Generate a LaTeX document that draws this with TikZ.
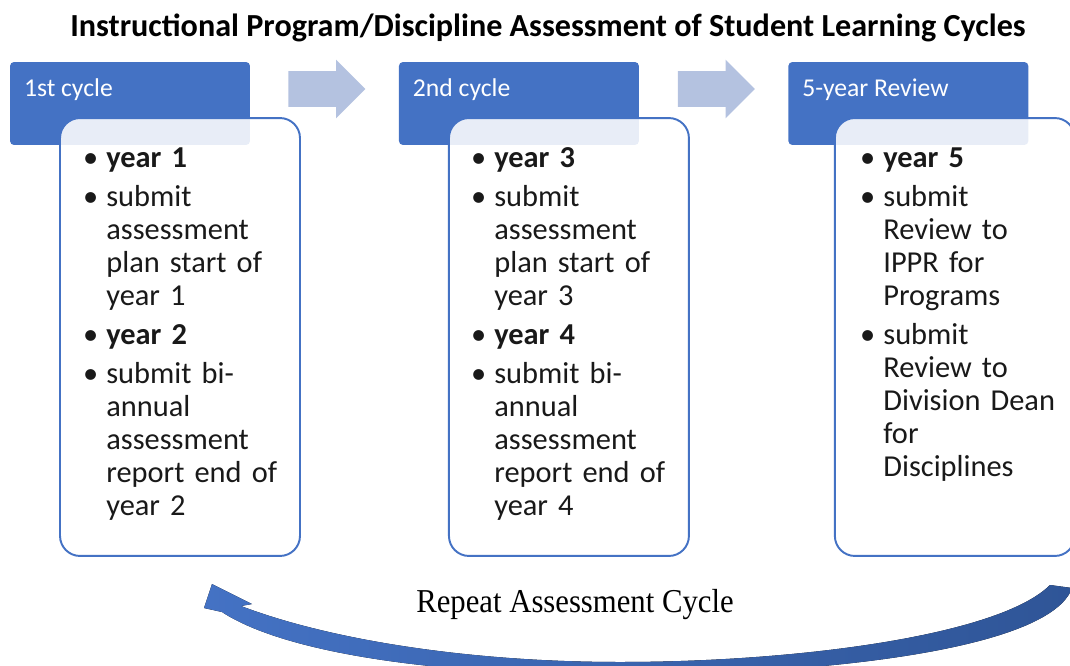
\documentclass[tikz,border=0pt]{standalone}
\usepackage{fontspec}
\setmainfont{Carlito}
\newfontfamily\loopfont[FakeStretch=0.92]{Liberation Serif}
\usepackage{enumitem}
\usetikzlibrary{positioning, shapes, arrows}
\definecolor{hdrblue}{RGB}{68,114,196}
\definecolor{stepgrey}{RGB}{180,194,224}
\definecolor{loopdark}{RGB}{47,85,151}
\tikzstyle{title}    = [font=\fontsize{18.3}{21}\selectfont\bfseries, inner sep=0pt]
\tikzstyle{header}   = [rectangle, fill=hdrblue, rounded corners=0.08cm, minimum width=4.8cm, minimum height=1.66cm]
\tikzstyle{headtext} = [anchor=west, text=white, inner sep=0pt, font=\fontsize{14.6}{17}\selectfont]
\tikzstyle{body}     = [rectangle, draw=hdrblue, line width=1.1pt, fill=white, fill opacity=0.88, rounded corners=0.4cm, minimum width=4.8cm, minimum height=8.76cm]
\tikzstyle{steparrow}= [single arrow, fill=stepgrey, inner xsep=0pt, inner ysep=0.35cm, minimum height=1.54cm, single arrow head extend=0.23cm]
\tikzstyle{list}     = [anchor=north west, inner sep=0pt, text width=4.2cm, align=left, font=\fontsize{17.3}{18.8}\selectfont, text=black!90]
\setlist[itemize]{leftmargin=0.36cm, labelsep=0.16cm, itemsep=0.12cm, topsep=0pt, parsep=0pt, partopsep=0pt}

\begin{document}
\begin{tikzpicture}[x=0.02cm, y=-0.02cm]
    \useasboundingbox (0,0) rectangle (1070,665);

    % title
    \node [title] (title) at (548,28) {Instructional Program/Discipline Assessment of Student Learning Cycles};

    % header boxes
    \node [header] (h1) at (130,103.5) {};
    \node [header, right of=h1, node distance=7.78cm] (h2) {};
    \node [header, right of=h2, node distance=7.79cm] (h3) {};

    \node [headtext] (t1) at ([xshift=0.28cm, yshift=-0.56cm]h1.north west) {1st cycle};
    \node [headtext] (t2) at ([xshift=0.28cm, yshift=-0.56cm]h2.north west) {2nd cycle};
    \node [headtext] (t3) at ([xshift=0.28cm, yshift=-0.56cm]h3.north west) {5-year Review};

    % arrows between the cycles
    \node [steparrow] (a1) at (318,89) {};
    \node [steparrow] (a2) at (707.5,89) {};

    % body boxes
    \node [body] (b1) at (180,337) {};
    \node [body, right of=b1, node distance=7.78cm] (b2) {};
    \node [body, right of=b2, node distance=7.72cm] (b3) {};

    % lists
    \node [list] (l1) at (88,134) {\begin{itemize}
        \item \textbf{year 1}
        \item submit\newline assessment\newline plan start of\newline year 1
        \item \textbf{year 2}
        \item submit bi-\newline annual\newline assessment\newline report end of\newline year 2
    \end{itemize}};
    \node [list] (l2) at (476,134) {\begin{itemize}
        \item \textbf{year 3}
        \item submit\newline assessment\newline plan start of\newline year 3
        \item \textbf{year 4}
        \item submit bi-\newline annual\newline assessment\newline report end of\newline year 4
    \end{itemize}};
    \node [list] (l3) at (865,134) {\begin{itemize}
        \item \textbf{year 5}
        \item submit\newline Review to\newline IPPR for\newline Programs
        \item submit\newline Review to\newline Division Dean\newline for\newline Disciplines
    \end{itemize}};

    % repeat arrow
    \fill [left color=hdrblue, right color=loopdark] (1072,588) .. controls (1050,650) and (820,675) .. (620,675)
        .. controls (420,675) and (280,650) .. (222,612) -- (204,608) -- (212,584)
        -- (252,604) -- (241,606) .. controls (330,640) and (470,662) .. (620,662)
        .. controls (800,662) and (1000,635) .. (1050,585) -- cycle;
    \node [font=\loopfont\fontsize{19}{22}\selectfont] (loop) at (575,605) {Repeat Assessment Cycle};
\end{tikzpicture}
\end{document}
